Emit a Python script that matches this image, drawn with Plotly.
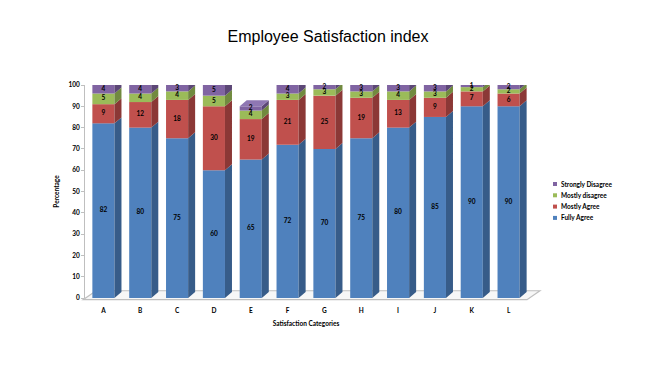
import plotly.graph_objects as go

categories = ["A", "B", "C", "D", "E", "F", "G", "H", "I", "J", "K", "L"]
fully_agree = [82, 80, 75, 60, 65, 72, 70, 75, 80, 85, 90, 90]
mostly_agree = [9, 12, 18, 30, 19, 21, 25, 19, 13, 9, 7, 6]
mostly_disagree = [5, 4, 4, 5, 4, 3, 3, 3, 4, 3, 2, 2]
strongly_disagree = [4, 4, 3, 5, 2, 4, 2, 3, 3, 3, 1, 2]
y_ticks = list(range(0, 101, 10))

series = [
    ("Fully Agree", fully_agree, "#4F81BD", "#375C89", "#6E95C8"),
    ("Mostly Agree", mostly_agree, "#C0504D", "#8B3836", "#CC6E6B"),
    ("Mostly disagree", mostly_disagree, "#9BBB59", "#718A3F", "#ADC876"),
    ("Strongly Disagree", strongly_disagree, "#8064A2", "#5C4776", "#8F77B3"),
]

W = 0.6      # bar width in category units
DX = 0.19    # depth offset (x, category units)
DY = 2.8     # depth offset (y, data units)
FONT = "Lato"
SMALL = 6.5
n = len(categories)
xs = list(range(n))

# plot area geometry (figure pixels)
FIG_W, FIG_H = 648, 360
ML, MR, MT, MB = 77, 129, 77, 70
PW = FIG_W - ML - MR
PH = FIG_H - MT - MB

fig = go.Figure()

bases = [0] * n
text_x, text_y, text_t = [], [], []
side_traces = []
tops = [None] * n
for name, vals, front, side, top in series:
    fig.add_trace(go.Bar(
        x=xs, y=vals, base=bases[:], width=W,
        marker=dict(color=front, line=dict(width=0)),
        showlegend=False, hoverinfo="skip", name=name,
    ))
    px, py = [], []
    for i in xs:
        b = bases[i]
        t = b + vals[i]
        xr = i + W / 2
        px += [xr, xr + DX, xr + DX, xr, xr, None]
        py += [b, b + DY, t + DY, t, b, None]
        text_x.append(i)
        text_y.append(b + vals[i] / 2)
        text_t.append(str(vals[i]))
        if vals[i] > 0:
            tops[i] = (t, top)
    side_traces.append(go.Scatter(
        x=px, y=py, mode="lines", fill="toself", fillcolor=side,
        line=dict(width=0, color=side), showlegend=False, hoverinfo="skip",
        cliponaxis=False,
    ))
    bases = [bases[i] + vals[i] for i in xs]

for tr in side_traces:
    fig.add_trace(tr)

# top faces
top_by_color = {}
for i in xs:
    t, col = tops[i]
    xl, xr = i - W / 2, i + W / 2
    top_by_color.setdefault(col, ([], []))
    top_by_color[col][0].extend([xl, xl + DX, xr + DX, xr, xl, None])
    top_by_color[col][1].extend([t, t + DY, t + DY, t, t, None])
for col, (px, py) in top_by_color.items():
    fig.add_trace(go.Scatter(
        x=px, y=py, mode="lines", fill="toself", fillcolor=col,
        line=dict(width=0, color=col), showlegend=False, hoverinfo="skip",
        cliponaxis=False,
    ))

# data labels
fig.add_trace(go.Scatter(
    x=text_x, y=text_y, text=text_t, mode="text",
    textfont=dict(family=FONT, size=SMALL, color="black", weight="bold"),
    showlegend=False, hoverinfo="skip", cliponaxis=False,
))

# floor (paper coordinates derived from the category axis)
def xp(c):
    return (c + 0.5) / n

fl, fr, bl, br = -0.55, n - 0.5, -0.2, n - 0.15
yf, yb = -0.008, 0.034
floor_path = (f"M{xp(fl)},{yf} L{xp(fr)},{yf} L{xp(br)},{yb} L{xp(bl)},{yb} Z")
shapes = [dict(type="path", path=floor_path, xref="paper", yref="paper",
               layer="below", fillcolor="#F7F7F7",
               line=dict(color="#BFBFBF", width=1.2))]

# legend (Excel style: small squares, tight spacing), top entry first
annotations = []
leg_x = (553 - 8 - ML) / PW
leg_top = (PH - (184 - 8 - MT)) / PH
leg_step = 11.3 / PH
sq = 4.0
for k, (name, vals, front, side, top) in enumerate(reversed(series)):
    yc = leg_top - k * leg_step
    shapes.append(dict(type="rect", xref="paper", yref="paper",
                       x0=leg_x, x1=leg_x + sq / PW,
                       y0=yc - sq / 2 / PH, y1=yc + sq / 2 / PH,
                       fillcolor=front, line=dict(width=0)))
    annotations.append(dict(text=name, xref="paper", yref="paper",
                            x=leg_x + (sq + 2) / PW, y=yc,
                            xanchor="left", yanchor="middle", showarrow=False,
                            font=dict(family=FONT, size=SMALL, color="black",
                                      weight="bold")))

fig.update_layout(
    width=FIG_W, height=FIG_H,
    margin=dict(l=ML, r=MR, t=MT, b=MB),
    paper_bgcolor="white", plot_bgcolor="white",
    barmode="overlay",
    showlegend=False,
    title=dict(text="Employee Satisfaction index", x=320 / FIG_W, xref="container",
               y=1 - 28 / FIG_H, yref="container", yanchor="middle", xanchor="center",
               font=dict(family="Liberation Sans", size=16, color="black")),
    shapes=shapes,
    annotations=annotations,
    xaxis=dict(range=[-0.5, n - 0.5], tickvals=xs, ticktext=categories,
               showgrid=False, zeroline=False, showline=False, ticks="",
               ticklabelstandoff=7,
               tickfont=dict(family=FONT, size=SMALL, color="black", weight="bold"),
               title=dict(text="Satisfaction Categories", standoff=8,
                          font=dict(family=FONT, size=SMALL, color="black", weight="bold"))),
    yaxis=dict(range=[0, 100], tickvals=y_ticks,
               showgrid=False, zeroline=False, showline=True, linecolor="#BFBFBF",
               linewidth=1, ticks="outside", ticklen=3, tickcolor="#BFBFBF",
               tickfont=dict(family=FONT, size=SMALL, color="black", weight="bold"),
               title=dict(text="Percentage", standoff=8,
                          font=dict(family=FONT, size=SMALL, color="black", weight="bold"))),
)

fig.write_html("out.html")
